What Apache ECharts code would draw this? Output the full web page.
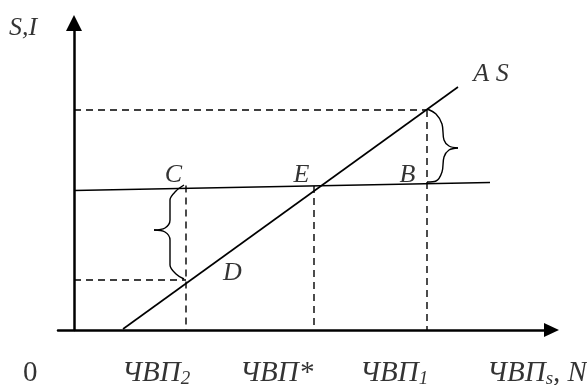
<!DOCTYPE html>
<html lang="ru">
<head>
<meta charset="UTF-8">
<title>S, I</title>
<style>html,body{margin:0;padding:0;background:#fff;}</style>
</head>
<body>
<div id="chart" style="width:587px;height:385px;"></div>
<script src="https://cdn.jsdelivr.net/npm/echarts@6/dist/echarts.min.js"></script>
<script>
// условные единицы: x — ЧВП, y — S, I
var lineAS = [[4.9, 0.1], [38.4, 24.3]];
var lineI = [[0, 13.95], [41.6, 14.75]];
var dashed = [
    [[0, 22.0], [35.3, 22.0]],
    [[0, 5.0], [11.2, 5.0]],
    [[11.2, 14.45], [11.2, 0]],
    [[24.0, 14.4], [24.0, 0]],
    [[35.3, 22.0], [35.3, 0]]
];
var braceLeft = [
    [[11.0, 14.5], [10.2, 13.9], [9.6, 13.0], [9.6, 11.0], [9.1, 10.2], [8.0, 10.0]],
    [[8.0, 10.0], [9.1, 9.8], [9.6, 9.0], [9.6, 6.5], [10.2, 5.6], [11.0, 5.1]]
];
var braceRight = [
    [[35.3, 22.1], [36.2, 21.6], [36.8, 20.6], [37.0, 19.0], [37.5, 18.4], [38.4, 18.2]],
    [[38.4, 18.2], [37.5, 18.0], [37.0, 17.3], [36.8, 15.8], [36.2, 14.9], [35.3, 14.8]]
];
var pointNames = ['C', 'E', 'B', 'D', 'A S', 'S,I'];
var pointPos = [[9.95, 15.45], [22.75, 15.45], [33.35, 15.45], [15.85, 5.7], [41.7, 25.55], [-5.1, 30.15]];
var tickNames = ['0', 'ЧВП{s|2}', 'ЧВП*', 'ЧВП{s|1}', 'ЧВП{s|s}, N'];
var tickPos = [-5.1, 4.8, 16.6, 28.6, 41.3];
var tickY = -4.3;

var myChart = echarts.init(document.getElementById('chart'));

var series = [];

function addLine(data, opt) {
    series.push({
        type: 'line',
        data: data,
        showSymbol: false,
        symbol: 'none',
        smooth: opt.smooth || false,
        clip: false,
        silent: true,
        lineStyle: { color: '#000', width: opt.width, type: opt.type || 'solid' }
    });
}

addLine(lineAS, { width: 1.6 });
addLine(lineI, { width: 1.6 });
dashed.forEach(function (seg) {
    addLine(seg, { width: 1.4, type: [7, 5] });
});
braceLeft.concat(braceRight).forEach(function (half) {
    addLine(half, { width: 1.4, smooth: 0.35 });
});

// подписи точек
series.push({
    type: 'scatter',
    symbolSize: 0,
    clip: false,
    silent: true,
    data: pointNames.map(function (name, i) {
        return { value: pointPos[i], name: name };
    }),
    label: {
        show: true,
        position: 'inside',
        formatter: '{b}',
        color: '#000',
        fontFamily: 'Liberation Serif',
        fontStyle: 'italic',
        fontSize: 26
    }
});

// подписи оси X
series.push({
    type: 'scatter',
    symbolSize: 0,
    clip: false,
    silent: true,
    data: tickNames.map(function (name, i) {
        return {
            value: [tickPos[i], tickY],
            name: name,
            label: { fontStyle: i === 0 ? 'normal' : 'italic' }
        };
    }),
    label: {
        show: true,
        position: 'inside',
        align: 'left',
        formatter: '{b}',
        color: '#000',
        fontFamily: 'Liberation Serif',
        fontStyle: 'italic',
        fontSize: 29,
        rich: {
            s: { fontSize: 19, fontFamily: 'Liberation Serif', fontStyle: 'italic', padding: [12, 0, 0, 0] }
        }
    }
});

var option = {
    animation: false,
    grid: { left: 58, right: 35.5, top: 23, bottom: 55, outerBoundsMode: 'none' },
    xAxis: {
        type: 'value',
        min: -1.6,
        max: 47.75,
        splitLine: { show: false },
        axisTick: { show: false },
        axisLabel: { show: false },
        axisLine: {
            onZero: true,
            symbol: ['none', 'triangle'],
            symbolSize: [14, 15],
            lineStyle: { color: '#000', width: 2.5 }
        }
    },
    yAxis: {
        type: 'value',
        min: 0,
        max: 30.7,
        splitLine: { show: false },
        axisTick: { show: false },
        axisLabel: { show: false },
        axisLine: {
            show: true,
            onZero: true,
            symbol: ['none', 'triangle'],
            symbolSize: [16, 16],
            lineStyle: { color: '#000', width: 2.5 }
        }
    },
    series: series
};

myChart.setOption(option);
</script>
</body>
</html>
